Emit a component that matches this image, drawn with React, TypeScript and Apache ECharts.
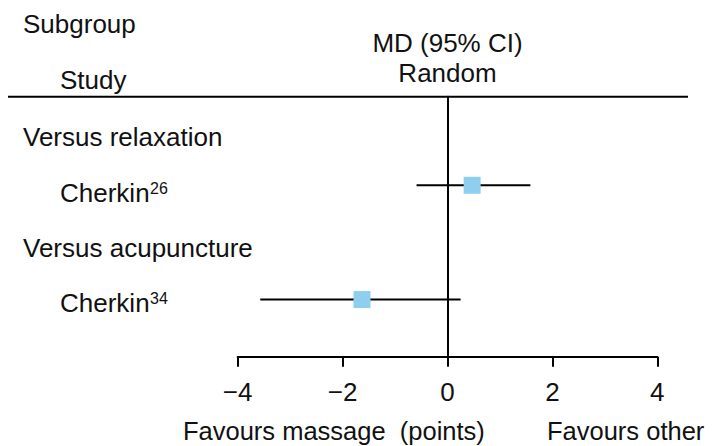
import React, { useEffect, useRef } from "react";
import * as echarts from "echarts";

// ---- data ----
const subgroups = ["Versus relaxation", "Versus acupuncture"];
const studies = ["Cherkin", "Cherkin"];
const refs = ["26", "34"];
const studyRows = [1, 3];
const md = [0.47, -1.63];
const ciLow = [-0.59, -3.57];
const ciHigh = [1.58, 0.25];
const xMin = -4;
const xMax = 4;
const xInterval = 2;
const headerLeft = ["Subgroup", "Study"];
const headerCenter = ["MD (95% CI)", "Random"];
const footer = ["Favours massage  (points)", "Favours other"];

const FONT = "'Liberation Sans', Arial, Helvetica, sans-serif";
const TXT = "#111";

export default function App() {
  const ref = useRef<HTMLDivElement>(null);
  useEffect(() => {
    if (!ref.current) return;
    const chart = echarts.init(ref.current, undefined, { renderer: "svg" });
    const fs = 26;
    const t = (text: string, x: number, y: number, align = "left", size = fs) => ({
      type: "text",
      x,
      y,
      style: {
        text,
        fontSize: size,
        fontFamily: FONT,
        fill: TXT,
        align,
        verticalAlign: "middle",
      },
    });
    const subY = [137, 247.6];
    const studyY = [192.6, 302.6];
    const supY = [188.5, 298.5];
    const graphic: any[] = [
      {
        type: "line",
        shape: { x1: 8, y1: 96.7, x2: 688, y2: 96.7 },
        style: { stroke: "#000", lineWidth: 2 },
      },
      t(headerLeft[0], 23, 24.2),
      t(headerLeft[1], 60, 80.2),
      t(headerCenter[0], 447.5, 43.2, "center"),
      t(headerCenter[1], 447.5, 72.6, "center"),
      t(footer[0], 183, 431, "left", 25.5),
      t(footer[1], 547, 431, "left", 25.5),
    ];
    subgroups.forEach((s, i) => graphic.push(t(s, 23, subY[i])));
    studies.forEach((s, i) => {
      graphic.push(t(s, 60, studyY[i]));
      graphic.push(t(refs[i], 150, supY[i], "left", 16));
    });

    chart.setOption({
      animation: false,
      grid: { left: 237.7, right: 58.7, top: 96.7, bottom: 89.3, containLabel: false },
      xAxis: {
        type: "value",
        min: xMin,
        max: xMax,
        interval: xInterval,
        splitLine: { show: false },
        axisLine: { onZero: false, lineStyle: { color: "#000", width: 2 } },
        axisTick: { length: 10, lineStyle: { color: "#000", width: 2 } },
        axisLabel: {
          margin: 22,
          fontSize: 26,
          fontFamily: FONT,
          color: TXT,
          formatter: (v: number) => String(v).replace("-", "\u2212"),
        },
      },
      yAxis: {
        type: "value",
        min: -0.55,
        max: 4,
        inverse: true,
        splitLine: { show: false },
        axisLabel: { show: false },
        axisTick: { show: false },
        axisLine: { show: true, onZero: true, lineStyle: { color: "#000", width: 2 } },
      },
      graphic,
      series: [
        {
          type: "custom",
          data: md.map((m, i) => [m, studyRows[i], ciLow[i], ciHigh[i]]),
          encode: { x: [0, 2, 3], y: 1 },
          renderItem: (params: any, api: any) => {
            const row = api.value(1);
            const p = api.coord([api.value(0), row]);
            const l = api.coord([api.value(2), row]);
            const h = api.coord([api.value(3), row]);
            const s = 17;
            return {
              type: "group",
              children: [
                {
                  type: "line",
                  shape: { x1: l[0], y1: l[1], x2: h[0], y2: h[1] },
                  style: { stroke: "#000", lineWidth: 2 },
                },
                {
                  type: "rect",
                  shape: { x: p[0] - s / 2, y: p[1] - s / 2, width: s, height: s },
                  style: { fill: "#8ECFF0" },
                },
              ],
            };
          },
        },
      ],
    });
    return () => chart.dispose();
  }, []);
  return (
    <div
      ref={ref}
      style={{ position: "fixed", left: 0, top: 0, width: 716, height: 446, background: "#fff" }}
    />
  );
}
